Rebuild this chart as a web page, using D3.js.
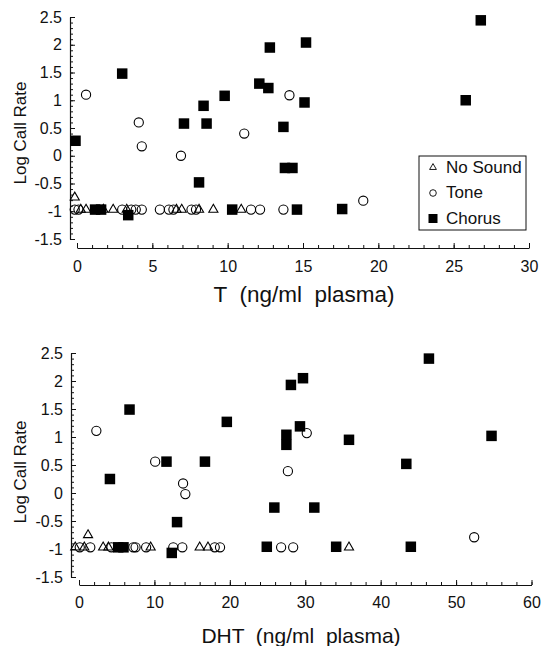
<!DOCTYPE html>
<html>
<head>
<meta charset="utf-8">
<script src="https://cdn.jsdelivr.net/npm/d3@7"></script>
<style>
  html, body { margin: 0; padding: 0; background: #fff; }
  svg { display: block; font-family: "Liberation Sans", Arial, Helvetica, sans-serif; }
  .domain { stroke: #111; stroke-width: 1.2; }
  .tick line { stroke: #111; stroke-width: 1; }
  .tick text { fill: #111; font-size: 16px; }
</style>
</head>
<body>
<svg id="chart" width="542" height="646"></svg>
<script>
// Testosterone panel: [T (ng/ml plasma), log call rate]
const tNoSound = [[-0.15,-0.75],[0.25,-0.97],[0.6,-0.97],[1.75,-0.97],[2.4,-0.97],[3.3,-0.97],
  [6.6,-0.97],[6.95,-0.97],[8.1,-0.97],[9.05,-0.97],[10.9,-0.97]];
const tTone = [[0.6,1.1],[4.1,0.6],[4.3,0.17],[6.9,0.0],[11.1,0.4],[14.1,1.09],[19.0,-0.81],
  [-0.15,-0.97],[0.1,-0.97],[3.0,-0.97],[3.6,-0.97],[3.9,-0.97],[4.3,-0.97],[5.5,-0.97],
  [6.1,-0.97],[6.4,-0.97],[7.6,-0.97],[7.9,-0.97],[11.55,-0.97],[12.15,-0.97],[13.7,-0.97]];
const tChorus = [[-0.1,0.27],[3.0,1.48],[1.2,-0.97],[1.6,-0.97],[3.4,-1.07],[7.1,0.58],[8.4,0.9],
  [8.6,0.58],[8.1,-0.48],[9.8,1.08],[10.3,-0.97],[12.1,1.3],[12.7,1.22],[12.8,1.95],[15.2,2.04],
  [15.1,0.96],[13.7,0.52],[13.8,-0.22],[14.3,-0.22],[14.6,-0.97],[17.6,-0.96],[25.8,1.0],[26.8,2.44]];

// Dihydrotestosterone panel: [DHT (ng/ml plasma), log call rate]
const dNoSound = [[1.2,-0.75],[-0.5,-0.97],[0.7,-0.97],[3.2,-0.97],[3.9,-0.97],[9.5,-0.97],
  [16.0,-0.97],[17.1,-0.97],[35.8,-0.97]];
const dTone = [[2.3,1.11],[10.1,0.56],[13.8,0.17],[14.1,-0.02],[30.2,1.07],[27.7,0.39],[52.4,-0.79],
  [0.1,-0.97],[1.5,-0.97],[4.3,-0.97],[7.2,-0.97],[7.5,-0.97],[8.9,-0.97],[12.5,-0.97],[13.7,-0.97],
  [18.0,-0.97],[18.7,-0.97],[26.8,-0.97],[28.4,-0.97]];
const dChorus = [[6.7,1.49],[4.1,0.25],[11.6,0.56],[16.7,0.56],[19.6,1.27],[13.0,-0.52],[12.3,-1.07],
  [5.2,-0.97],[5.9,-0.97],[25.9,-0.26],[24.9,-0.96],[28.1,1.93],[29.7,2.05],[29.3,1.19],[27.5,1.04],
  [27.5,0.86],[35.8,0.95],[43.4,0.52],[46.4,2.4],[54.7,1.02],[31.2,-0.26],[34.1,-0.96],[44.0,-0.96]];

const yTicks = [-1.5, -1, -0.5, 0, 0.5, 1, 1.5, 2, 2.5];
const tTicks = [0, 5, 10, 15, 20, 25, 30];
const dTicks = [0, 10, 20, 30, 40, 50, 60];
const legendLabels = ["No Sound", "Tone", "Chorus"];

const svg = d3.select("#chart");
const fmt = d => String(d);

function panel(cfg) {
  const g = svg.append("g");
  const x = d3.scaleLinear().domain(cfg.xDomain).range(cfg.xRange);
  const y = d3.scaleLinear().domain([-1.5, 2.5]).range(cfg.yRange);

  // y axis: ticks point inward, labels on the left
  g.append("g").attr("transform", `translate(${cfg.yAxisX},0)`)
    .call(d3.axisLeft(y).tickValues(d3.range(-15, 26).map(v => v / 10)).tickSize(-3).tickSizeOuter(0).tickFormat(""))
    .call(s => s.selectAll(".tick line").attr("stroke-width", 0.8));
  g.append("g").attr("transform", `translate(${cfg.yAxisX},0)`)
    .call(d3.axisLeft(y).tickValues(yTicks).tickSize(-5).tickSizeOuter(0).tickPadding(8).tickFormat(fmt))
    .call(s => s.select(".domain").remove());

  // x axis: detached from the y axis, ticks point up
  g.append("g").attr("transform", `translate(0,${cfg.xAxisY})`)
    .call(d3.axisBottom(x).tickValues(d3.range(cfg.xDomain[0], cfg.xDomain[1] + 0.001, cfg.minorStep))
      .tickSize(-3).tickSizeOuter(0).tickFormat(""))
    .call(s => s.selectAll(".tick line").attr("stroke-width", 0.8));
  g.append("g").attr("transform", `translate(0,${cfg.xAxisY})`)
    .call(d3.axisBottom(x).tickValues(cfg.xTicks).tickSize(-5).tickSizeOuter(0).tickPadding(cfg.xPad).tickFormat(fmt))
    .call(s => s.select(".domain").remove());

  // axis titles
  g.append("text")
    .attr("transform", `translate(${cfg.yTitleX},${cfg.yTitleY}) rotate(-90)`)
    .attr("text-anchor", "middle").attr("font-size", 17).attr("fill", "#111")
    .text("Log Call Rate");
  g.append("text")
    .attr("x", cfg.xTitleX).attr("y", cfg.xTitleY)
    .attr("text-anchor", "middle").attr("font-size", cfg.xTitleSize).attr("fill", "#111")
    .attr("xml:space", "preserve").style("white-space", "pre")
    .text(cfg.xTitle);

  // markers
  const sq = 10.5;
  g.append("g").selectAll("rect").data(cfg.chorus).join("rect")
    .attr("x", d => x(d[0]) - sq / 2).attr("y", d => y(d[1]) - sq / 2)
    .attr("width", sq).attr("height", sq).attr("fill", "#000");
  g.append("g").selectAll("circle").data(cfg.tone).join("circle")
    .attr("cx", d => x(d[0])).attr("cy", d => y(d[1])).attr("r", 4.6)
    .attr("fill", "none").attr("stroke", "#000").attr("stroke-width", 1.1);
  const tri = d3.symbol().type(d3.symbolTriangle).size(36);
  g.append("g").selectAll("path").data(cfg.noSound).join("path")
    .attr("transform", d => `translate(${x(d[0])},${y(d[1])})`)
    .attr("d", tri).attr("fill", "none").attr("stroke", "#000").attr("stroke-width", 1.1);
  return g;
}

panel({
  xDomain: [0, 30], xRange: [77, 529], yRange: [239, 17],
  yAxisX: 70, xAxisY: 248, minorStep: 1, xTicks: tTicks, xPad: 13,
  yTitleX: 25.5, yTitleY: 133, xTitleX: 304, xTitleY: 302, xTitleSize: 22.5,
  xTitle: "T  (ng/ml  plasma)",
  noSound: tNoSound, tone: tTone, chorus: tChorus
});

panel({
  xDomain: [0, 60], xRange: [79, 531.5], yRange: [577, 353],
  yAxisX: 71, xAxisY: 585, minorStep: 2, xTicks: dTicks, xPad: 12,
  yTitleX: 26, yTitleY: 472, xTitleX: 301, xTitleY: 643, xTitleSize: 21,
  xTitle: "DHT  (ng/ml  plasma)",
  noSound: dNoSound, tone: dTone, chorus: dChorus
});

// legend in the upper panel
const lg = svg.append("g").attr("transform", "translate(419,156)");
lg.append("rect").attr("width", 107).attr("height", 74)
  .attr("fill", "#fff").attr("stroke", "#111").attr("stroke-width", 1);
const rows = lg.selectAll("g").data(legendLabels).join("g")
  .attr("transform", (d, i) => `translate(0,${11 + i * 25.5})`);
rows.append("text").attr("x", 27).attr("y", 0).attr("dy", "0.35em")
  .attr("font-size", 17).attr("fill", "#111").text(d => d);
rows.filter((d, i) => i === 0).append("path")
  .attr("transform", "translate(14,0.5)")
  .attr("d", d3.symbol().type(d3.symbolTriangle).size(20))
  .attr("fill", "none").attr("stroke", "#000").attr("stroke-width", 0.9);
rows.filter((d, i) => i === 1).append("circle")
  .attr("cx", 14).attr("cy", 0.5).attr("r", 3.3)
  .attr("fill", "none").attr("stroke", "#000").attr("stroke-width", 0.9);
rows.filter((d, i) => i === 2).append("rect")
  .attr("x", 9.5).attr("y", -4).attr("width", 9).attr("height", 9).attr("fill", "#000");
</script>
</body>
</html>
